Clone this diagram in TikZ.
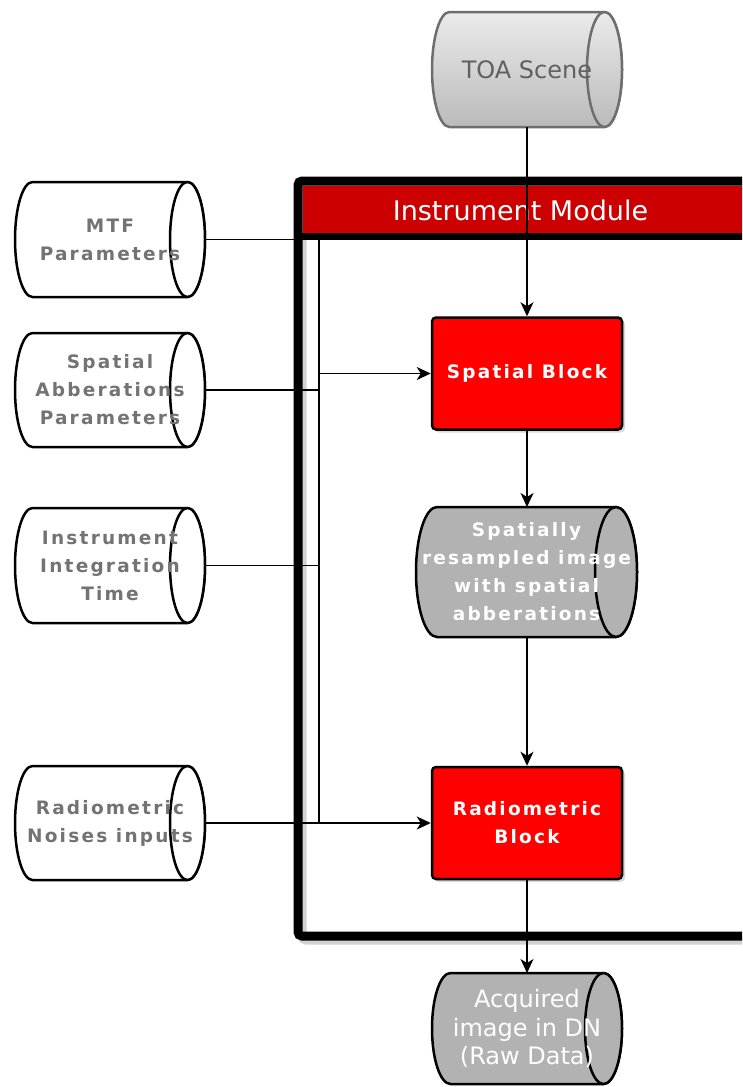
\documentclass[tikz,border=0pt]{standalone}
\usepackage{fontspec}
\setmainfont{DejaVu Sans}
\newfontfamily\spacedfont[LetterSpace=12]{DejaVu Sans}
\usetikzlibrary{arrows.meta,calc,shadows}

\definecolor{hdrred}{HTML}{CC0000}
\definecolor{blockred}{HTML}{FF0000}
\definecolor{datagray}{HTML}{B2B2B2}
\definecolor{labelgray}{HTML}{737373}
\definecolor{toaedge}{HTML}{6E6E6E}
\definecolor{toatext}{HTML}{606060}

% cylinder bodies go below the text of their nodes
\pgfdeclarelayer{cylbody}
\pgfsetlayers{cylbody,main}

\tikzset{
  cylbox/.style={rectangle, draw=none, inner sep=0pt, outer sep=0pt,
    minimum width=190pt, align=center},
  paramtext/.style={text=labelgray, font=\spacedfont\bfseries\fontsize{18.5}{28}\selectfont},
  flowtext/.style={text=white, font=\spacedfont\bfseries\fontsize{18.5}{28}\selectfont},
  toatextstyle/.style={text=toatext, font=\fontsize{24}{28}\selectfont},
  acqtext/.style={text=white, font=\fontsize{24}{28.5}\selectfont},
  titletext/.style={text=white, font=\fontsize{27}{30}\selectfont, inner sep=0pt},
  block/.style={rectangle, draw=black, line width=2.5pt, fill=blockred,
    rounded corners=4pt, minimum width=190pt, minimum height=112pt,
    inner sep=0pt, align=center, flowtext,
    drop shadow={shadow xshift=3pt, shadow yshift=-3pt, opacity=0.3}},
  conn/.style={line width=1.2pt, draw=black},
  arr/.style={-{Stealth[length=14pt,width=13pt,inset=4pt]}},
  cylline/.style={line width=2.5pt, line join=round},
}

% outline of a lying cylinder around a node:
% #1 node, #2 x radius of the end ellipse, #3 y radius, #4 fill options, #5 edge colour
\newcommand\cylinderat[5]{%
  \begin{pgfonlayer}{cylbody}
  \path[cylline, draw=#5, #4]
    ($(#1.north west)+(#2,0pt)$) -- ($(#1.north east)-(#2,0pt)$)
    arc[start angle=90, end angle=-90, x radius=#2, y radius=#3]
    -- ($(#1.south west)+(#2,0pt)$)
    arc[start angle=270, end angle=90, x radius=#2, y radius=#3] -- cycle;
  \path[cylline, draw=#5, #4] ($(#1.east)-(#2,0pt)$) ellipse[x radius=#2, y radius=#3];
  \end{pgfonlayer}%
}
% soft shadow under a cylinder: #1 node, #2 x radius, #3 y radius
\newcommand\cylshadow[3]{%
  \begin{pgfonlayer}{cylbody}
  \fill[black, opacity=0.22, shift={(3pt,-3pt)}]
    ($(#1.north west)+(#2,0pt)$) -- ($(#1.north east)-(#2,0pt)$)
    arc[start angle=90, end angle=-90, x radius=#2, y radius=#3]
    -- ($(#1.south west)+(#2,0pt)$)
    arc[start angle=270, end angle=90, x radius=#2, y radius=#3] -- cycle;
  \end{pgfonlayer}%
}

\begin{document}
\begin{tikzpicture}[x=1pt, y=-1pt]
\useasboundingbox (0,0) rectangle (742,1087);
\clip (0,0) rectangle (742,1087);

% instrument module frame with its soft shadow and title bar
\draw[black!35, opacity=0.5, line width=9pt, rounded corners=4pt] (302,185) rectangle (800,940);
\node[draw=black, line width=9pt, rounded corners=4pt, minimum width=500pt,
      minimum height=755pt, inner sep=0pt] (module) at (548,558.5) {};
\fill[hdrred] (303,185.5) rectangle (800,233);
\draw[line width=7pt] (298,236.5) -- (800,236.5);
\node[titletext] (title) at (520.5,210) {Instrument Module};

% data stores and parameter inputs
\node[cylbox, minimum height=115pt, toatextstyle] (toa) at (527,69.5) {TOA Scene};
\node[cylbox, minimum height=115pt, paramtext] (mtf) at (110,239.5) {MTF\\Parameters};
\node[cylbox, minimum height=114pt, paramtext] (sab) at (110,390) {Spatial\\Abberations\\Parameters};
\node[cylbox, minimum height=115pt, paramtext] (iit) at (110,565.5) {Instrument\\Integration\\Time};
\node[cylbox, minimum height=114pt, paramtext] (rni) at (110,823) {Radiometric\\Noises inputs};
\node[cylbox, minimum width=221pt, minimum height=130pt, flowtext] (srs) at (526.5,572)
  {Spatially\\resampled image\\with spatial\\abberations};
\node[cylbox, minimum height=111pt, acqtext] (acq) at (527,1028.5) {Acquired\\image in DN\\(Raw Data)};

% processing blocks
\node[block] (spb) at (527,373.5) {Spatial Block};
\node[block] (rdb) at (527,823) {Radiometric\\Block};

% cylinder outlines
\cylshadow{toa}{17.5pt}{57.5pt}
\cylshadow{srs}{21pt}{65pt}
\cylshadow{acq}{18.5pt}{55.5pt}
\cylinderat{toa}{17.5pt}{57.5pt}{top color=black!8, bottom color=black!27}{toaedge}
\cylinderat{mtf}{17.5pt}{57.5pt}{fill=white}{black}
\cylinderat{sab}{17.5pt}{57pt}{fill=white}{black}
\cylinderat{iit}{17.5pt}{57.5pt}{fill=white}{black}
\cylinderat{rni}{17.5pt}{57pt}{fill=white}{black}
\cylinderat{srs}{21pt}{65pt}{fill=datagray}{black}
\cylinderat{acq}{18.5pt}{55.5pt}{fill=datagray}{black}

% parameter bus
\coordinate (bustop) at (319,239.5);
\coordinate (busbot) at (319,823);
\draw[conn] (mtf.east) -- (bustop) -- (busbot);
\draw[conn] (sab.east) -- (sab.east -| bustop);
\draw[conn] (iit.east) -- (iit.east -| bustop);
\draw[conn, arr] (spb.west -| bustop) -- (spb.west);
\draw[conn, arr] (rni.east) -- (rdb.west);

% main flow
\draw[conn, arr] (toa.south) -- (spb.north);
\draw[conn, arr] (spb.south) -- (srs.north -| spb.south);
\draw[conn, arr] (srs.south -| rdb.north) -- (rdb.north);
\draw[conn, arr] (rdb.south) -- (acq.north);
\end{tikzpicture}
\end{document}
